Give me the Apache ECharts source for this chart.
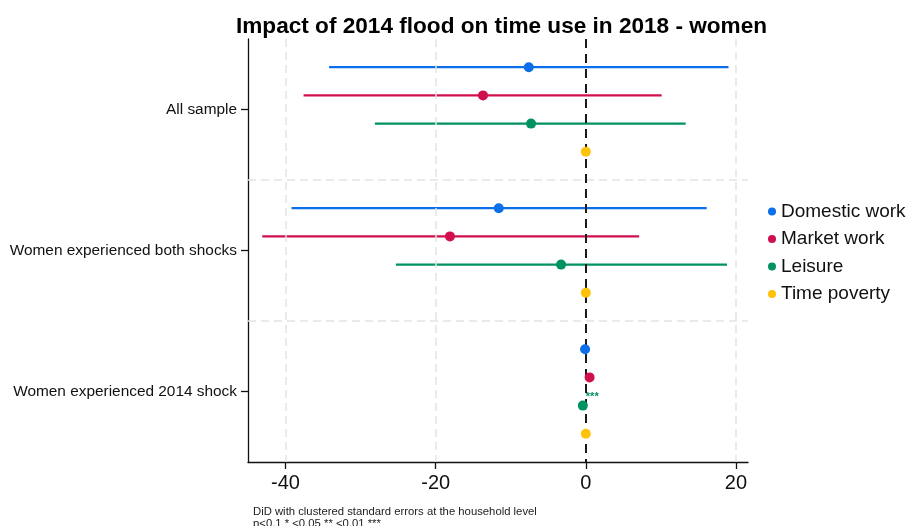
<!DOCTYPE html>
<html>
<head>
<meta charset="utf-8">
<script src="https://cdn.jsdelivr.net/npm/echarts@6/dist/echarts.min.js"></script>
<style>html,body{margin:0;padding:0;background:#fff}#chart{width:908px;height:526px}</style>
</head>
<body>
<div id="chart"></div>
<script>
// ---- data ----
const groups = ['All sample', 'Women experienced both shocks', 'Women experienced 2014 shock'];
const seriesNames = ['Domestic work', 'Market work', 'Leisure', 'Time poverty'];
const domesticEst = [-7.6, -11.6, -0.1];
const domesticLo  = [-34.2, -39.2, -0.3];
const domesticHi  = [19.0, 16.1, 0.1];
const marketEst = [-13.7, -18.1, 0.5];
const marketLo  = [-37.6, -43.1, 0.3];
const marketHi  = [10.1, 7.1, 0.7];
const leisureEst = [-7.3, -3.3, -0.4];
const leisureLo  = [-28.1, -25.3, -0.6];
const leisureHi  = [13.3, 18.8, -0.2];
const povertyEst = [0.0, 0.0, 0.0];
const povertyLo  = [0.0, 0.0, 0.0];
const povertyHi  = [0.0, 0.0, 0.0];
const domesticStars = ['', '', ''];
const marketStars = ['', '', ''];
const leisureStars = ['', '', '***'];
const povertyStars = ['', '', ''];
const xTicks = [-40, -20, 0, 20];
const title = 'Impact of 2014 flood on time use in 2018 - women';
const note1 = 'DiD with clustered standard errors at the household level';
const note2 = 'p<0.1 * <0.05 ** <0.01 ***';

// ---- build ----
const colors = ['#0a6fe8', '#d0104c', '#009262', '#ffc20a'];
const ests = [domesticEst, marketEst, leisureEst, povertyEst];
const los = [domesticLo, marketLo, leisureLo, povertyLo];
const his = [domesticHi, marketHi, leisureHi, povertyHi];
const stars = [domesticStars, marketStars, leisureStars, povertyStars];
const FONT = 'Liberation Sans, Arial, sans-serif';
const groupPos = groups.map((g, i) => i * 5 + 2.5);
const rowOf = (g, s) => g * 5 + s + 1;

const series = [];
series.push({
  name: '_grid', type: 'line', data: [], z: 1, silent: true,
  markLine: {
    symbol: 'none', silent: true, label: {show: false},
    lineStyle: {color: '#e3e3e3', type: [8, 5], width: 1.5},
    data: xTicks.filter(v => v !== 0).map(v => ({xAxis: v}))
      .concat([{yAxis: 5}, {yAxis: 10}])
  }
});
series.push({
  name: '_zero', type: 'line', data: [], z: 4, silent: true,
  markLine: {
    symbol: 'none', silent: true, label: {show: false},
    lineStyle: {color: '#1a1a1a', type: [9, 6], width: 2},
    data: [{xAxis: 0}]
  }
});
seriesNames.forEach((name, s) => {
  series.push({
    name: name, type: 'custom', z: 3,
    itemStyle: {color: colors[s]},
    encode: {x: [0, 1], y: 2},
    data: groups.map((g, gi) => [los[s][gi], his[s][gi], rowOf(gi, s)]),
    renderItem: function (params, api) {
      const y = api.value(2);
      const p1 = api.coord([api.value(0), y]);
      const p2 = api.coord([api.value(1), y]);
      return {type: 'line', shape: {x1: p1[0], y1: p1[1], x2: p2[0], y2: p2[1]},
        style: {stroke: colors[s], lineWidth: 2.2}};
    }
  });
  series.push({
    name: name, type: 'scatter', z: 6, symbol: 'circle', symbolSize: 10,
    itemStyle: {color: colors[s], opacity: 1},
    data: groups.map((g, gi) => [ests[s][gi], rowOf(gi, s), stars[s][gi]]),
    label: {
      show: true, position: [8, -9], fontSize: 11, fontWeight: 'bold', color: colors[s], fontFamily: FONT,
      formatter: p => p.value[2]
    }
  });
});

const chart = echarts.init(document.getElementById('chart'), null, {renderer: 'canvas'});
chart.setOption({
  backgroundColor: '#ffffff',
  animation: false,
  title: {
    text: title, left: 231, top: 10,
    textStyle: {fontFamily: FONT, fontSize: 22.6, fontWeight: 'bold', color: '#000'}
  },
  legend: {
    data: seriesNames, orient: 'vertical', left: 763, top: 197,
    icon: 'circle', itemWidth: 8, itemHeight: 8, itemGap: 8.5,
    textStyle: {fontFamily: FONT, fontSize: 19, color: '#111'}
  },
  grid: {left: 248, right: 160, top: 39, bottom: 64, containLabel: false},
  xAxis: {
    type: 'value', min: -45, max: 21.6, position: 'bottom',
    axisLine: {show: true, onZero: false, lineStyle: {color: '#111', width: 1.3}},
    axisTick: {show: true, length: 7, lineStyle: {color: '#111', width: 1.3}, customValues: xTicks},
    axisLabel: {fontFamily: FONT, fontSize: 20, color: '#111', margin: 11, customValues: xTicks},
    splitLine: {show: false}
  },
  yAxis: {
    type: 'value', min: 0, max: 15, inverse: true, position: 'left',
    axisLine: {show: true, onZero: false, lineStyle: {color: '#111', width: 1.3}},
    axisTick: {show: true, length: 7, lineStyle: {color: '#111', width: 1.3}, customValues: groupPos},
    axisLabel: {
      fontFamily: FONT, fontSize: 15.4, color: '#111', margin: 11, customValues: groupPos,
      formatter: v => groups[Math.round((v - 2.5) / 5)] || ''
    },
    splitLine: {show: false}
  },
  graphic: [
    {type: 'text', left: 253, top: 506, style: {text: note1, font: '11.3px ' + FONT, fill: '#222'}},
    {type: 'text', left: 253, top: 518, style: {text: note2, font: '11.3px ' + FONT, fill: '#222'}}
  ],
  series: series
});
</script>
</body>
</html>
